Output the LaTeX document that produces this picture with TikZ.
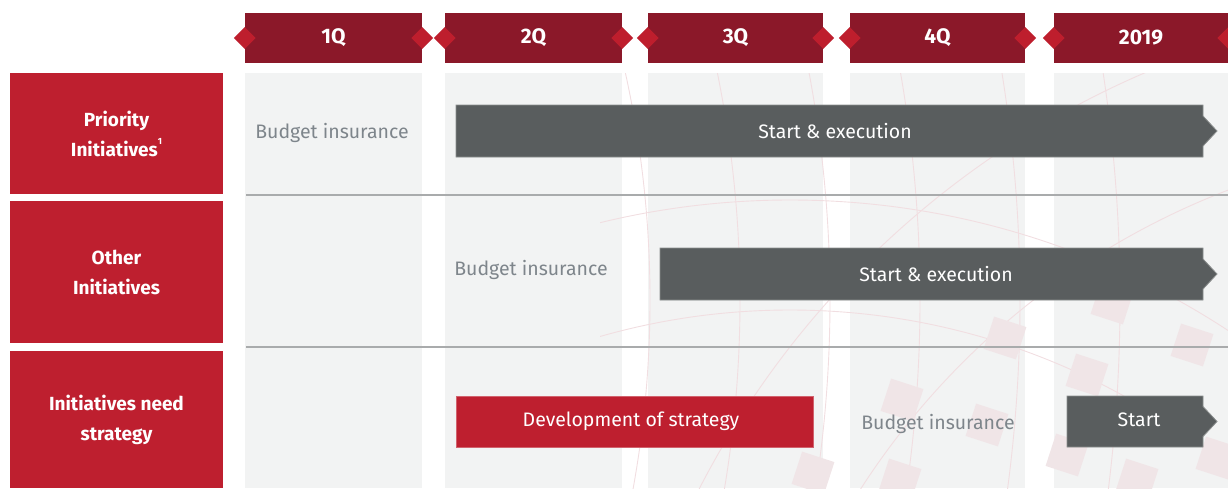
\documentclass[tikz,border=0pt]{standalone}
\usepackage{fontspec}
\setmainfont{Fira Sans}
\usetikzlibrary{shapes.geometric}

\definecolor{headred}{HTML}{8B1829}
\definecolor{gemred}{HTML}{BE1E2D}
\definecolor{labred}{HTML}{BE1F2F}
\definecolor{colgray}{HTML}{F2F3F3}
\definecolor{bargray}{HTML}{595D5E}
\definecolor{txtgray}{HTML}{7E858B}
\definecolor{linegray}{HTML}{A9ABAC}
\definecolor{decopink}{HTML}{F0E5E7}
\definecolor{decoline}{HTML}{F1DEE1}

\tikzset{
  head/.style={fill=headred, text=white, font=\bfseries\fontsize{21}{24}\selectfont,
    minimum height=50, inner sep=0},
  gem/.style={diamond, fill=gemred, minimum size=22, inner sep=0},
  rowlab/.style={fill=labred, text=white, font=\bfseries\fontsize{19}{30}\selectfont,
    align=center, minimum width=213, inner sep=0},
  plain/.style={text=txtgray, font=\fontsize{19.5}{24}\selectfont, inner sep=0},
  bartext/.style={text=white, font=\fontsize{19.5}{24}\selectfont, inner sep=0},
  graybar/.style={fill=bargray, draw=bargray!70!white, line width=0.8},
  redbar/.style={fill=labred, draw=labred!70!white, line width=0.8},
  sepline/.style={draw=linegray, line width=1.2},
  deco/.style={draw=decoline, line width=0.9}
}

% bar with a small arrow tip on its right side: x1 y1 x2 y2
\newcommand\tipbar[4]{%
  \filldraw[graybar] (#1,#2) -- (#3,#2) -- (#3,{(#2+#4)/2-15})
    -- ({#3+14},{(#2+#4)/2}) -- (#3,{(#2+#4)/2+15}) -- (#3,#4) -- (#1,#4) -- cycle;}
\newcommand\footmark[1]{\raisebox{0.6em}{\fontsize{9}{9}\selectfont #1}}

\begin{document}
\begin{tikzpicture}[x=1pt,y=-1pt]
  \useasboundingbox (0,0) rectangle (1228,488);

  % quarter columns and headers
  \foreach \l/\r/\t [count=\i] in {245/422/1Q,445/622/2Q,648/823/3Q,850/1025/4Q,1054/1228/2019}{
    \fill[colgray] (\l,73) rectangle (\r,488);
    \node[head, minimum width=\r-\l] (q\i) at ({(\l+\r)/2},38) {\t};
    \node[gem] (gl\i) at (q\i.west) {};
    \node[gem] (gr\i) at (q\i.east) {};
  }

  % faint globe in the background
  \begin{scope}
    \clip (600,73) rectangle (1228,488);
    \foreach \r in {1050,1140,1230,1320,1420,1520}
      \draw[deco] (-400,300) circle (\r);
    \draw[deco] (790,1000) circle (690);
    \draw[deco] (790,1000) circle (800);
    \draw[deco] (1500,900) circle (760);
    \draw[deco] (1500,900) circle (900);
    \foreach \x/\y in {1005/338,1087/375,1192/345,902/400,987/425,1067/455,
                       900/480,1137/480,1217/458,813/473,1112/303}
      \fill[decopink, rotate around={-18:(\x,\y)}] (\x-17,\y-17) rectangle (\x+17,\y+17);
  \end{scope}

  % row separators
  \draw[sepline] (246,195) -- (1228,195);
  \draw[sepline] (246,347) -- (1228,347);

  % row labels
  \node[rowlab, minimum height=121] (prio) at (116.5,133.5) {Priority\\Initiatives\footmark{1}};
  \node[rowlab, minimum height=142] (other) at (116.5,272) {Other\\Initiatives};
  \node[rowlab, minimum height=137] (need) at (116.5,419.5) {Initiatives need\\strategy};

  % priority initiatives
  \node[plain] (bud1) at (332,133) {Budget insurance};
  \tipbar{456}{105}{1203}{157}
  \node[bartext] (exec1) at (835,131) {Start \& execution};

  % other initiatives
  \node[plain] (bud2) at (531,270) {Budget insurance};
  \tipbar{660}{248}{1203}{300}
  \node[bartext] (exec2) at (936,274) {Start \& execution};

  % initiatives need strategy
  \filldraw[redbar] (456,396) rectangle (813,447);
  \node[bartext] (dev) at (631,421.5) {Development of strategy};
  \node[plain] (bud3) at (938,424) {Budget insurance};
  \tipbar{1067}{396}{1203}{447}
  \node[bartext] (start) at (1139,420) {Start};
\end{tikzpicture}
\end{document}
